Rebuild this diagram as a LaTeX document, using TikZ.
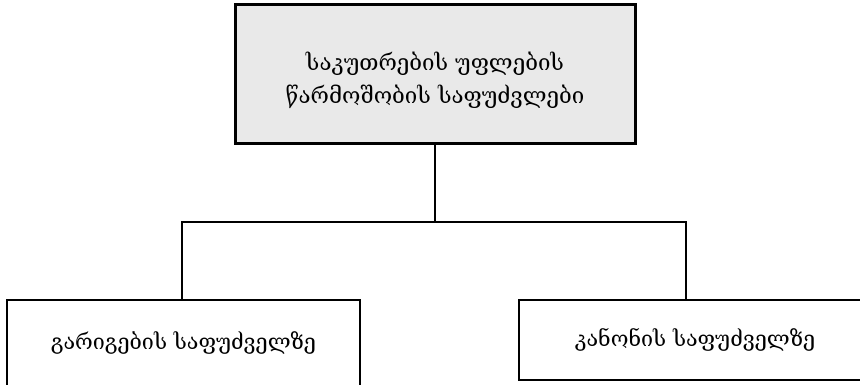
\documentclass[tikz,border=0pt]{standalone}
\usepackage{fontspec}
\usepackage{xcolor}
\usepackage{tikz}
\newfontfamily\geofont{DejaVu Serif}

\tikzset{
    rootbox/.style={draw, line width=3pt, fill=gray!17, minimum width=400pt, minimum height=139pt, align=center, font=\geofont\fontsize{22.3}{33}\selectfont},
    kindbox/.style={draw, minimum height=80pt, font=\geofont\fontsize{21.5}{24}\selectfont},
}

\begin{document}
\begin{tikzpicture}[x=1pt, y=-1pt]
        \useasboundingbox (0,0) rectangle (860,384);
        % strut pushes the two lines a little lower in the box
        \node[rootbox] (root) at (435,74) {\rule{0pt}{32pt}საკუთრების უფლების\\წარმოშობის საფუძვლები};
        \node[kindbox, line width=1.5pt, minimum width=353pt, minimum height=86pt] (deal) at (183.5,343) {გარიგების საფუძველზე};
        \node[kindbox, line width=2.5pt, minimum width=352pt] (law) at (695,340) {კანონის საფუძველზე};
        % split point under the root
        \coordinate (split) at (435,222);
        \coordinate (splitl) at (182,222);
        \coordinate (splitr) at (686,222);
        \path[draw, line width=2pt] (root.south) -- (split);
        \path[draw, line width=2pt] (splitl |- deal.north) -- (splitl) -- (splitr) -- (splitr |- law.north);
    \end{tikzpicture}
\end{document}
